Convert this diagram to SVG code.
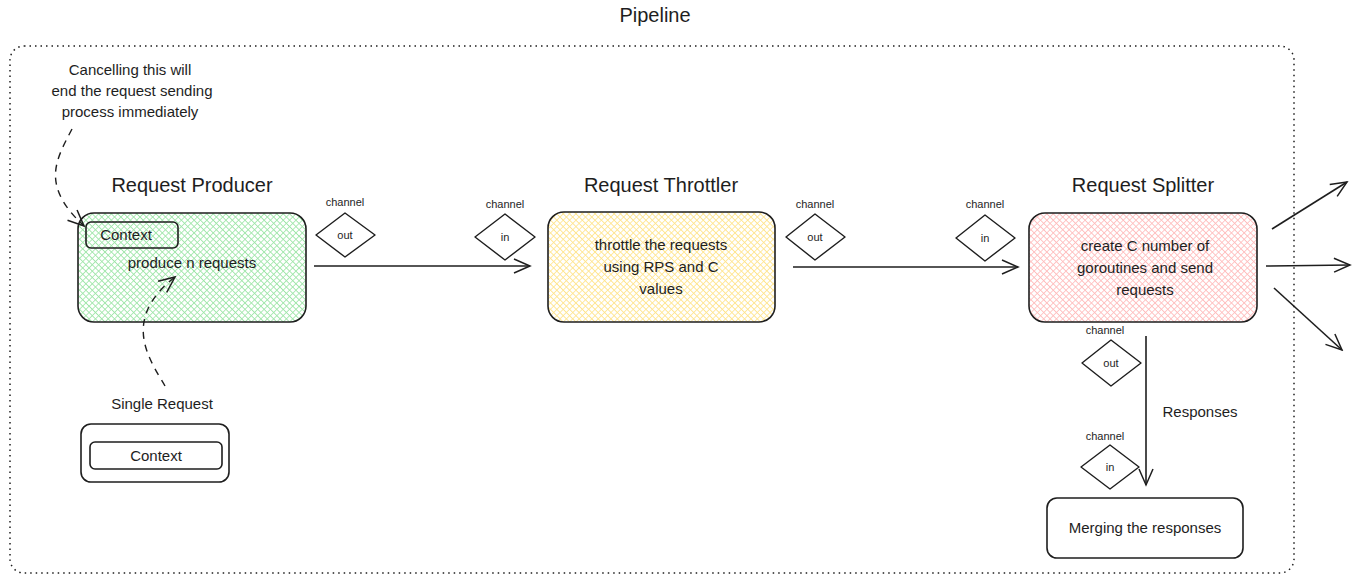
<svg xmlns="http://www.w3.org/2000/svg" width="1354" height="581" viewBox="0 0 1354 581">
<defs>
<pattern id="hg" patternUnits="userSpaceOnUse" width="4.5" height="4.5" patternTransform="rotate(45)">
<rect width="4.5" height="4.5" fill="#ffffff"/>
<path d="M0 0H4.5M0 0V4.5" stroke="#9ee6a8" stroke-width="1.6"/>
</pattern>
<pattern id="hy" patternUnits="userSpaceOnUse" width="4.5" height="4.5" patternTransform="rotate(45)">
<rect width="4.5" height="4.5" fill="#ffffff"/>
<path d="M0 0H4.5M0 0V4.5" stroke="#ffe48c" stroke-width="1.6"/>
</pattern>
<pattern id="hr" patternUnits="userSpaceOnUse" width="4.5" height="4.5" patternTransform="rotate(45)">
<rect width="4.5" height="4.5" fill="#ffffff"/>
<path d="M0 0H4.5M0 0V4.5" stroke="#ffbcbc" stroke-width="1.6"/>
</pattern>
<marker id="arr" viewBox="0 0 20 20" refX="18" refY="10" markerWidth="20" markerHeight="20" markerUnits="userSpaceOnUse" orient="auto">
<path d="M2 3L18 10L2 17" fill="none" stroke="#1e1e1e" stroke-width="1.5"/>
</marker>
</defs>
<style>
text{font-family:"Liberation Sans",Arial,sans-serif;fill:#1e1e1e;text-anchor:middle}
.t{font-size:20px}
.b{font-size:15px}
.s{font-size:11px}
.box{stroke:#1e1e1e;stroke-width:1.6}
.ln{fill:none;stroke:#1e1e1e;stroke-width:1.6}
.dash{fill:none;stroke:#1e1e1e;stroke-width:1.4;stroke-dasharray:7 6}
.dia{fill:#ffffff;stroke:#1e1e1e;stroke-width:1.4;stroke-linejoin:round}
</style>
<rect width="1354" height="581" fill="#ffffff"/>
<text x="655" y="22" class="t">Pipeline</text>
<rect x="10" y="46" width="1284" height="527" rx="14" fill="none" stroke="#1e1e1e" stroke-width="1.5" stroke-dasharray="1.5 4"/>

<g id="annotation">
<text x="130" y="75" class="b">Cancelling this will</text>
<text x="132" y="96" class="b">end the request sending</text>
<text x="130" y="117" class="b">process immediately</text>
</g>

<g id="producer">
<text x="192" y="192" class="t">Request Producer</text>
<rect x="78" y="213" width="228" height="109" rx="16" fill="url(#hg)" class="box"/>
<rect x="86" y="222" width="92" height="26" rx="5" fill="none" class="box"/>
<text x="126" y="240" class="b">Context</text>
<text x="192" y="268" class="b">produce n requests</text>
</g>

<g id="single-request">
<text x="162" y="409" class="b">Single Request</text>
<rect x="81" y="424" width="148" height="58" rx="10" fill="#ffffff" class="box"/>
<rect x="90" y="442" width="132" height="27" rx="5" fill="none" class="box"/>
<text x="156" y="461" class="b">Context</text>
</g>

<g id="throttler">
<text x="661" y="192" class="t">Request Throttler</text>
<rect x="548" y="212" width="227" height="110" rx="16" fill="url(#hy)" class="box"/>
<text x="661" y="250" class="b">throttle the requests</text>
<text x="661" y="272" class="b">using RPS and C</text>
<text x="661" y="294" class="b">values</text>
</g>

<g id="splitter">
<text x="1143" y="192" class="t">Request Splitter</text>
<rect x="1029" y="213" width="228" height="109" rx="16" fill="url(#hr)" class="box"/>
<text x="1145" y="251" class="b">create C number of</text>
<text x="1145" y="273" class="b">goroutines and send</text>
<text x="1145" y="295" class="b">requests</text>
</g>

<g id="merging">
<rect x="1047" y="498" width="196" height="60" rx="10" fill="#ffffff" class="box"/>
<text x="1145" y="533" class="b">Merging the responses</text>
</g>

<g id="channel-out-1">
<text x="345" y="206" class="s">channel</text>
<path d="M345 213L375 235L345 257L316 235Z" class="dia"/>
<text x="345" y="239" class="s">out</text>
</g>
<g id="channel-in-1">
<text x="505" y="208" class="s">channel</text>
<path d="M505 214L535 237L505 260L475 237Z" class="dia"/>
<text x="505" y="241" class="s">in</text>
</g>
<g id="channel-out-2">
<text x="815" y="208" class="s">channel</text>
<path d="M815 214L845 237L815 260L786 237Z" class="dia"/>
<text x="815" y="241" class="s">out</text>
</g>
<g id="channel-in-2">
<text x="985" y="208" class="s">channel</text>
<path d="M985 215L1015 238L985 261L956 238Z" class="dia"/>
<text x="985" y="242" class="s">in</text>
</g>
<g id="channel-out-3">
<text x="1105" y="334" class="s">channel</text>
<path d="M1111 340L1141 363L1111 386L1082 363Z" class="dia"/>
<text x="1111" y="367" class="s">out</text>
</g>
<g id="channel-in-3">
<text x="1105" y="440" class="s">channel</text>
<path d="M1110 445L1139 467L1110 489L1081 467Z" class="dia"/>
<text x="1110" y="471" class="s">in</text>
</g>

<g id="connectors">
<path d="M72 129C56 160 40 185 84 226" class="dash" marker-end="url(#arr)"/>
<path d="M165 386C150 360 120 320 175 277" class="dash" marker-end="url(#arr)"/>
<path d="M314 266L530 266" class="ln" marker-end="url(#arr)"/>
<path d="M793 267L1018 267" class="ln" marker-end="url(#arr)"/>
<path d="M1272 229L1347 182" class="ln" marker-end="url(#arr)"/>
<path d="M1266 266L1350 265" class="ln" marker-end="url(#arr)"/>
<path d="M1274 288L1342 350" class="ln" marker-end="url(#arr)"/>
<path d="M1146 336L1146 485" class="ln" marker-end="url(#arr)"/>
<text x="1200" y="417" class="b">Responses</text>
</g>
</svg>
